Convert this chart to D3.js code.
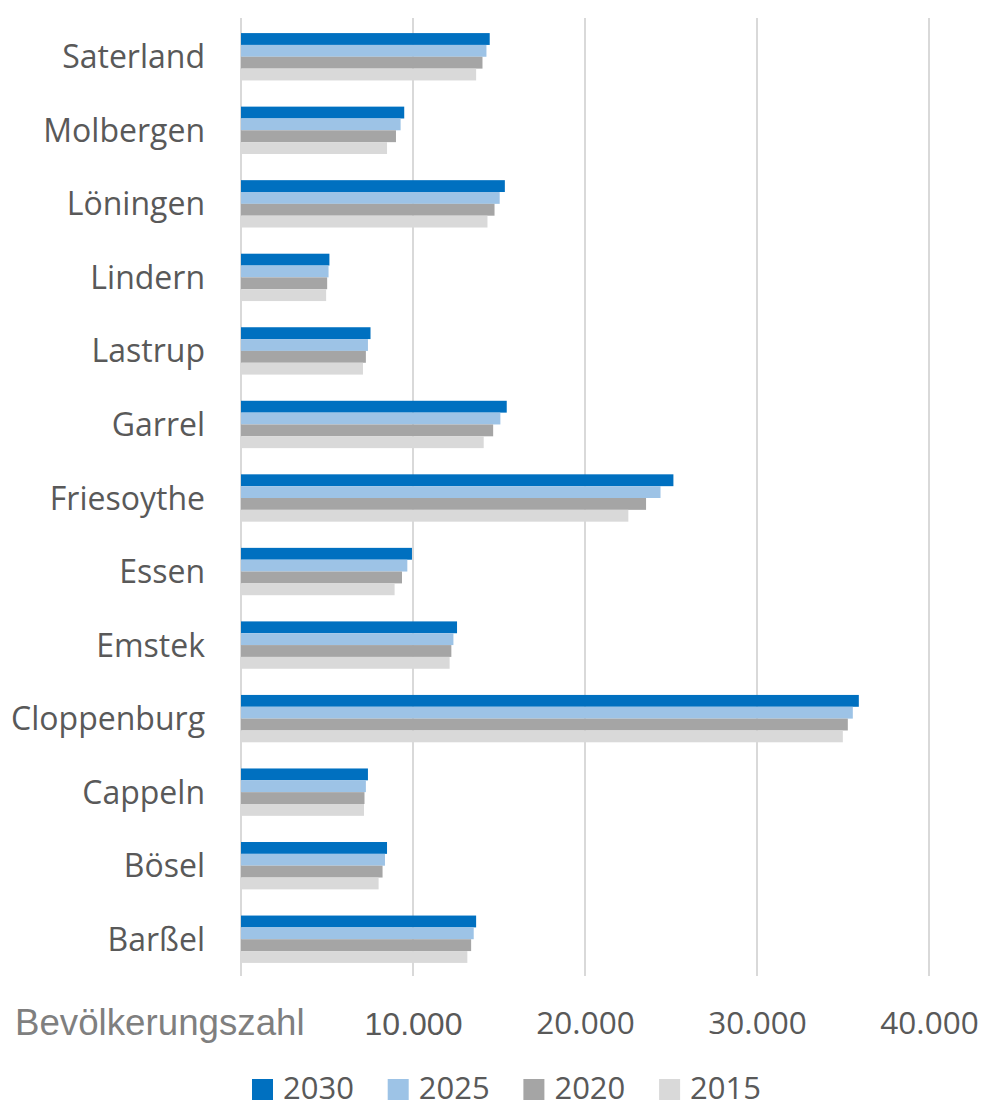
<!DOCTYPE html>
<html>
<head>
<meta charset="utf-8">
<script src="https://cdn.jsdelivr.net/npm/d3@7"></script>
<style>
  html, body { margin: 0; padding: 0; background: #fff; }
  svg { display: block; }
</style>
</head>
<body>
<svg id="chart" width="985" height="1108"></svg>
<script>
// Municipalities in the district of Cloppenburg, listed top to bottom
const categories = ["Saterland", "Molbergen", "Löningen", "Lindern", "Lastrup", "Garrel",
  "Friesoythe", "Essen", "Emstek", "Cloppenburg", "Cappeln", "Bösel", "Barßel"];

// Population per year (same order as categories)
const series = ["2030", "2025", "2020", "2015"];
const values2030 = [14460, 9490, 15340, 5140, 7530, 15450, 25140, 9940, 12560, 35920, 7380, 8490, 13670];
const values2025 = [14270, 9280, 15040, 5090, 7380, 15080, 24390, 9670, 12350, 35570, 7260, 8370, 13530];
const values2020 = [14040, 9010, 14740, 5010, 7260, 14660, 23550, 9360, 12230, 35280, 7180, 8230, 13380];
const values2015 = [13670, 8490, 14330, 4950, 7090, 14110, 22520, 8930, 12130, 34990, 7150, 8000, 13160];
const seriesValues = [values2030, values2025, values2020, values2015];
const seriesColors = ["#0070C0", "#9DC3E6", "#A5A5A5", "#D9D9D9"];

const xTicks = [10000, 20000, 30000, 40000];
const gridTicks = [0, 10000, 20000, 30000, 40000];
const axisTitle = "Bevölkerungszahl";

const labelFont = "'Open Sans', Lato, sans-serif";
const svg = d3.select("#chart");
const plotTop = 20, plotBottom = 976;

const x = d3.scaleLinear().domain([0, 40000]).range([241, 929]);
const y = d3.scaleBand().domain(categories).range([plotTop, plotBottom])
  .paddingInner(0.356).paddingOuter(0.178);
const ySub = d3.scaleBand().domain(series).range([0, y.bandwidth()]);
const color = d3.scaleOrdinal().domain(series).range(seriesColors);

const de = d3.formatLocale({ decimal: ",", thousands: ".", grouping: [3], currency: ["", " €"] });
const fmt = de.format(",.0f");

// vertical gridlines
svg.append("g")
  .selectAll("line")
  .data(gridTicks)
  .join("line")
  .attr("x1", d => x(d)).attr("x2", d => x(d))
  .attr("y1", plotTop - 2).attr("y2", plotBottom)
  .attr("stroke", "#D9D9D9")
  .attr("stroke-width", 2);

// bars
const rows = categories.map((c, i) => ({
  category: c,
  bars: series.map((s, k) => ({ series: s, value: seriesValues[k][i] }))
}));

const groups = svg.append("g")
  .selectAll("g")
  .data(rows)
  .join("g")
  .attr("transform", d => `translate(0,${y(d.category)})`);

groups.selectAll("rect")
  .data(d => d.bars)
  .join("rect")
  .attr("x", x(0))
  .attr("y", d => ySub(d.series))
  .attr("width", d => x(d.value) - x(0))
  .attr("height", ySub.bandwidth())
  .attr("fill", d => color(d.series));

// category labels
const yAxis = svg.append("g")
  .attr("transform", `translate(${x(0)},0)`)
  .call(d3.axisLeft(y).tickSize(0).tickPadding(36));
yAxis.select(".domain").remove();
yAxis.selectAll("text")
  .attr("fill", "#595959")
  .attr("dy", "0.36em")
  .style("font-family", labelFont)
  .style("font-size", "32px");

// value axis labels
const xAxis = svg.append("g")
  .attr("transform", `translate(0,${plotBottom})`)
  .call(d3.axisBottom(x).tickValues(xTicks).tickFormat(fmt).tickSize(0).tickPadding(36));
xAxis.select(".domain").remove();
xAxis.selectAll("text")
  .attr("fill", "#595959")
  .style("font-family", labelFont)
  .style("font-size", "31.5px");
xAxis.selectAll(".tick").filter(d => d === 10000).select("text")
  .style("font-family", "'Liberation Sans', Arial, sans-serif")
  .style("font-size", "32px");

// axis title
svg.append("text")
  .attr("x", 15)
  .attr("y", 1035)
  .attr("fill", "#7F7F7F")
  .style("font-family", "'Liberation Sans', Arial, sans-serif")
  .style("font-size", "36.7px")
  .text(axisTitle);

// legend
const legend = svg.append("g").attr("transform", "translate(252,1079)");
const items = legend.selectAll("g")
  .data(series)
  .join("g")
  .attr("transform", (d, i) => `translate(${i * 135.7},0)`);
items.append("rect")
  .attr("width", 21).attr("height", 21)
  .attr("fill", d => color(d));
items.append("text")
  .attr("x", 31)
  .attr("y", 20)
  .attr("fill", "#595959")
  .style("font-family", labelFont)
  .style("font-size", "31px")
  .text(d => d);
</script>
</body>
</html>
